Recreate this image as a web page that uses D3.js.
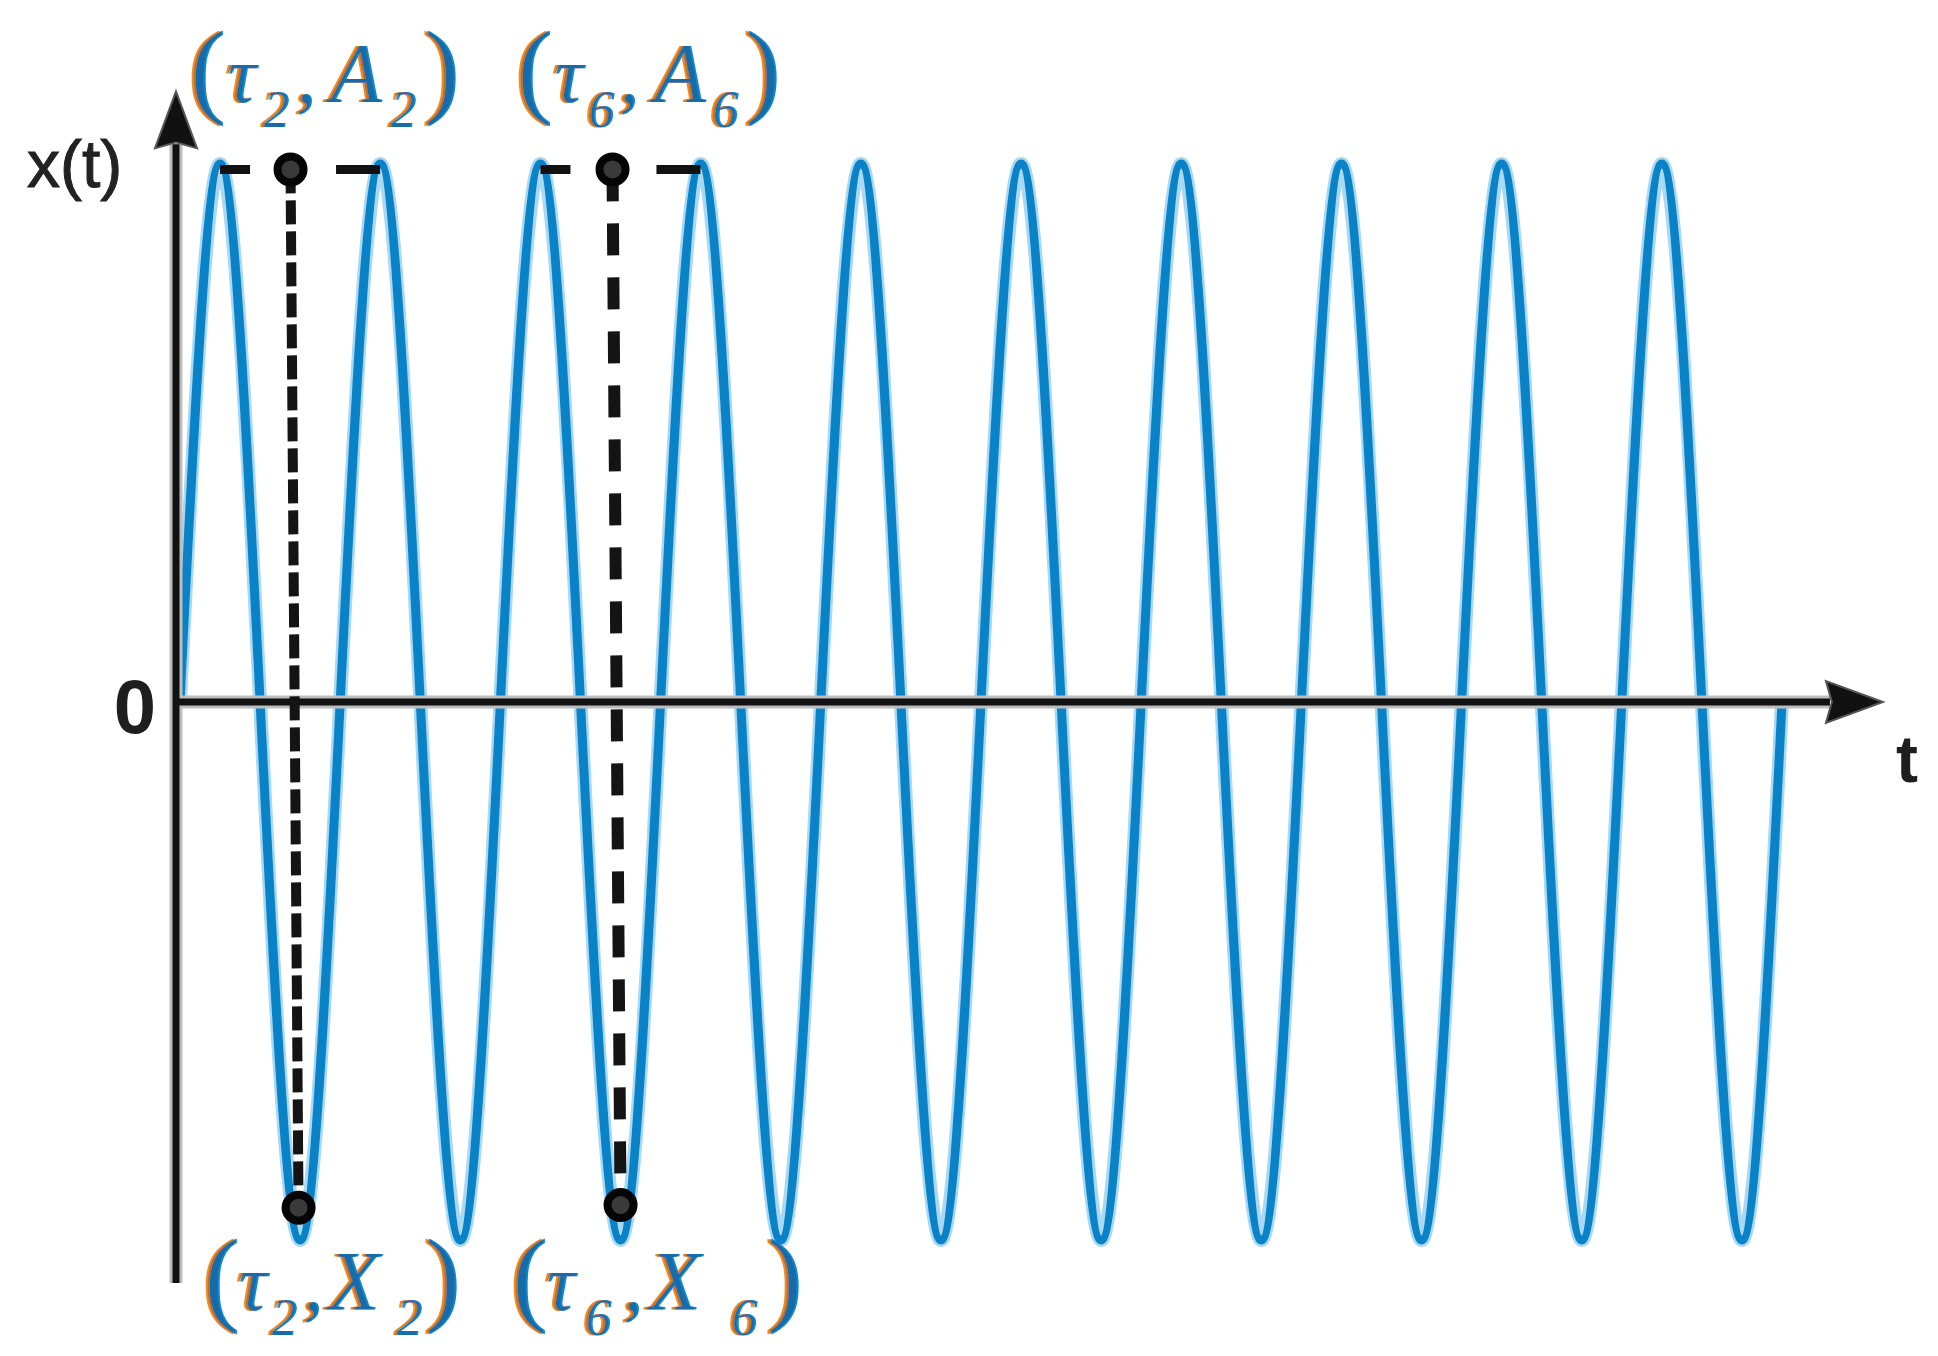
<!DOCTYPE html>
<html>
<head>
<meta charset="utf-8">
<script src="https://cdn.jsdelivr.net/npm/d3@7"></script>
<style>
  html, body { margin: 0; padding: 0; background: #fff; }
  svg { display: block; }
</style>
</head>
<body>
<script>
// -----------
// DATOS
// -----------
// tiempos (en periodos)
const zeroT = [0, 0.5, 1, 1.5, 2, 2.5, 3, 3.5, 4, 4.5, 5, 5.5, 6, 6.5, 7, 7.5, 8, 8.5, 9, 9.5, 10];
const peakT = [0.25, 1.25, 2.25, 3.25, 4.25, 5.25, 6.25, 7.25, 8.25, 9.25];
const troughT = [0.75, 1.75, 2.75, 3.75, 4.75, 5.75, 6.75, 7.75, 8.75, 9.75];
const peakA = 1;
const troughA = -1;

// marcadores (tau, A) y (tau, X)
const markerIdx = ['2', '6'];
const markerTopT = [0.69, 2.70];
const markerTopV = [0.99, 0.99];
const markerBotT = [0.74, 2.75];
const markerBotV = [-0.94, -0.935];
const markerSpan = [[0.25, 1.25], [2.25, 3.25]];

// extension de los ejes
const tAxis = [-0.025, 10.63];
const vAxis = [-1.08, 1.135];

const W = 1938, H = 1356;
const serif = '"Liberation Serif", "DejaVu Serif", serif';
const sans = '"Liberation Sans", Arial, sans-serif';
const blue = '#0a82c8';

const svg = d3.select('body').append('svg')
  .attr('width', W)
  .attr('height', H)
  .attr('viewBox', `0 0 ${W} ${H}`);

svg.append('rect').attr('width', W).attr('height', H).attr('fill', '#fff');

// filtro para el borde naranja / azul de las etiquetas
const defs = svg.append('defs');
const flt = defs.append('filter').attr('id', 'fringe')
  .attr('x', '-10%').attr('y', '-20%').attr('width', '120%').attr('height', '140%');
flt.append('feOffset').attr('in', 'SourceAlpha').attr('dx', -2.2).attr('result', 'l');
flt.append('feFlood').attr('flood-color', '#f08c28').attr('result', 'lc');
flt.append('feComposite').attr('in', 'lc').attr('in2', 'l').attr('operator', 'in').attr('result', 'lo');
flt.append('feOffset').attr('in', 'SourceAlpha').attr('dx', 2.2).attr('result', 'r');
flt.append('feFlood').attr('flood-color', '#0787d2').attr('result', 'rc');
flt.append('feComposite').attr('in', 'rc').attr('in2', 'r').attr('operator', 'in').attr('result', 'ro');
flt.append('feColorMatrix').attr('in', 'SourceGraphic').attr('type', 'matrix')
  .attr('values', '1 0 0 0 0  0 1 0 0 0  0 0 1 0 0  0 0 0 0.4 0')
  .attr('result', 'core');
const mrg = flt.append('feMerge');
mrg.append('feMergeNode').attr('in', 'lo');
mrg.append('feMergeNode').attr('in', 'ro');
mrg.append('feMergeNode').attr('in', 'core');

const x = d3.scaleLinear().domain([0, 10]).range([180, 1782]);
const y = d3.scaleLinear().domain([-1, 1]).range([1240, 164]);

// puntos de la senal
const pts = []
  .concat(zeroT.map((t) => ({ t, v: 0 })))
  .concat(peakT.map((t) => ({ t, v: peakA })))
  .concat(troughT.map((t) => ({ t, v: troughA })))
  .sort((a, b) => a.t - b.t);

// -----------
// SENAL
// -----------
const line = d3.line()
  .x((d) => x(d.t))
  .y((d) => y(d.v))
  .curve(d3.curveNatural);

svg.append('path')
  .datum(pts)
  .attr('d', line)
  .attr('fill', 'none')
  .attr('stroke', '#a8d8f2')
  .attr('stroke-width', 14);

svg.append('path')
  .datum(pts)
  .attr('d', line)
  .attr('fill', 'none')
  .attr('stroke', blue)
  .attr('stroke-width', 9)
  .attr('stroke-linejoin', 'round');

// -----------
// EJES
// -----------
const x0 = x(tAxis[0]);
const x1 = x(tAxis[1]);
const y0 = y(0);
const yTop = y(vAxis[1]);
const yBot = y(vAxis[0]);
const headL = 57;
const headW = 21;

const axes = svg.append('g');
[['#bdbdbd', 13], ['#111', 7]].forEach(([c, w]) => {
  axes.append('line')
    .attr('x1', x0).attr('y1', y0)
    .attr('x2', x1 - headL + 4).attr('y2', y0)
    .attr('stroke', c).attr('stroke-width', w);
  axes.append('line')
    .attr('x1', x0).attr('y1', yBot)
    .attr('x2', x0).attr('y2', yTop + headL - 4)
    .attr('stroke', c).attr('stroke-width', w);
});

axes.append('path')
  .attr('d', `M${x1},${y0} L${x1 - headL},${y0 - headW} L${x1 - headL + 6},${y0} L${x1 - headL},${y0 + headW} Z`)
  .attr('fill', '#111')
  .attr('stroke', '#555')
  .attr('stroke-width', 2);

axes.append('path')
  .attr('d', `M${x0},${yTop} L${x0 - headW},${yTop + headL} L${x0},${yTop + headL - 6} L${x0 + headW},${yTop + headL} Z`)
  .attr('fill', '#111')
  .attr('stroke', '#555')
  .attr('stroke-width', 2);

axes.append('text')
  .attr('x', x0 - 20).attr('y', y0 + 31)
  .attr('text-anchor', 'end')
  .attr('font-family', sans).attr('font-weight', 'bold')
  .attr('font-size', 76).attr('fill', '#1e1e1e')
  .text('0');

axes.append('text')
  .attr('x', 27).attr('y', 187)
  .attr('font-family', sans)
  .attr('font-size', 66).attr('fill', '#222')
  .attr('stroke', '#222').attr('stroke-width', 1)
  .text('x(t)');

axes.append('text')
  .attr('x', x1 + 13).attr('y', y0 + 80)
  .attr('font-family', sans).attr('font-weight', 'bold')
  .attr('font-size', 66).attr('fill', '#1e1e1e')
  .text('t');

// -----------
// MARCADORES
// -----------
const vStyles = [
  { w: 10, dash: '24 7' },
  { w: 12, dash: '32 22' },
];

const marks = svg.append('g');
markerIdx.forEach((k, i) => {
  // linea horizontal entre picos
  marks.append('line')
    .attr('x1', x(markerSpan[i][0])).attr('y1', y(markerTopV[i]))
    .attr('x2', x(markerSpan[i][1])).attr('y2', y(markerTopV[i]))
    .attr('stroke', '#111').attr('stroke-width', 9)
    .attr('stroke-dasharray', '30 86 44');
  // linea vertical
  marks.append('line')
    .attr('x1', x(markerTopT[i])).attr('y1', y(markerTopV[i]))
    .attr('x2', x(markerBotT[i])).attr('y2', y(markerBotV[i]))
    .attr('stroke', '#141414').attr('stroke-width', vStyles[i].w)
    .attr('stroke-dasharray', vStyles[i].dash);
  [[markerTopT[i], markerTopV[i]], [markerBotT[i], markerBotV[i]]].forEach(([t, v]) => {
    marks.append('circle')
      .attr('cx', x(t)).attr('cy', y(v))
      .attr('r', 13)
      .attr('fill', '#3a3a3a')
      .attr('stroke', '#050505')
      .attr('stroke-width', 8);
  });
});

// -----------
// ETIQUETAS
// -----------
const labelLayout = [
  { x: 193, y: 102, letter: 'A', k: 0, off: [33, 69, 102, 142, 196, 234] },
  { x: 520, y: 102, letter: 'A', k: 1, off: [33, 67, 98, 139, 191, 228] },
  { x: 207, y: 1310, letter: 'X', k: 0, off: [30, 63, 95, 126, 188, 221] },
  { x: 515, y: 1310, letter: 'X', k: 1, off: [30, 69, 107, 139, 215, 255] },
];

function drawLabel(lbl) {
  const sub = markerIdx[lbl.k];
  const t = svg.append('text')
    .attr('x', lbl.x)
    .attr('y', lbl.y)
    .attr('font-family', serif)
    .attr('fill', '#24101e')
    .attr('filter', 'url(#fringe)');
  const parts = [
    { s: '(', dx: -4, dy: 2, size: 106, it: false },
    { s: 'τ', dx: lbl.off[0], dy: 0, size: 80, it: true },
    { s: sub, dx: lbl.off[1], dy: 25, size: 52, it: true },
    { s: ',', dx: lbl.off[2], dy: 0, size: 80, it: true },
    { s: lbl.letter, dx: lbl.off[3] - 6, dy: 0, size: 84, it: true },
    { s: sub, dx: lbl.off[4], dy: 25, size: 52, it: true },
    { s: ')', dx: lbl.off[5] - 4, dy: 2, size: 106, it: false },
  ];
  parts.forEach((p) => {
    t.append('tspan')
      .attr('x', lbl.x + p.dx)
      .attr('y', lbl.y + p.dy)
      .attr('font-size', p.size)
      .attr('font-style', p.it ? 'italic' : 'normal')
      .text(p.s);
  });
}
labelLayout.forEach(drawLabel);
</script>
</body>
</html>
